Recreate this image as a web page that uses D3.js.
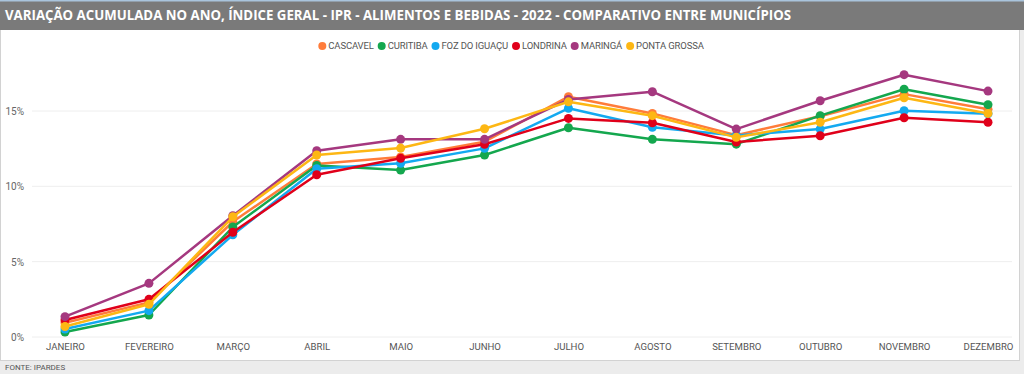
<!DOCTYPE html>
<html>
<head>
<meta charset="utf-8">
<script src="https://cdn.jsdelivr.net/npm/d3@7"></script>
<style>
  html, body { margin: 0; padding: 0; }
  body { width: 1024px; height: 374px; background: #ececec; overflow: hidden; font-family: "Open Sans", sans-serif; }
</style>
</head>
<body>
<svg id="chart" width="1024" height="374"></svg>
<script>
const months = ["JANEIRO", "FEVEREIRO", "MARÇO", "ABRIL", "MAIO", "JUNHO", "JULHO", "AGOSTO", "SETEMBRO", "OUTUBRO", "NOVEMBRO", "DEZEMBRO"];
const cities = ["CASCAVEL", "CURITIBA", "FOZ DO IGUAÇU", "LONDRINA", "MARINGÁ", "PONTA GROSSA"];
const colors = ["#FF7C3A", "#14A74E", "#13A9F0", "#E0001A", "#A5387F", "#FDB714"];
const cascavel = [0.95, 2.30, 7.65, 11.48, 11.95, 12.96, 15.95, 14.84, 13.40, 14.65, 16.12, 15.11];
const curitiba = [0.33, 1.46, 7.30, 11.39, 11.08, 12.08, 13.89, 13.12, 12.80, 14.69, 16.44, 15.42];
const foz = [0.53, 1.75, 6.78, 11.17, 11.53, 12.52, 15.18, 13.92, 13.38, 13.80, 15.02, 14.82];
const londrina = [1.13, 2.50, 6.95, 10.77, 11.86, 12.79, 14.51, 14.22, 12.94, 13.36, 14.55, 14.25];
const maringa = [1.35, 3.56, 8.05, 12.36, 13.12, 13.12, 15.77, 16.28, 13.80, 15.68, 17.41, 16.32];
const pontaGrossa = [0.70, 2.17, 7.98, 12.08, 12.54, 13.82, 15.61, 14.69, 13.25, 14.25, 15.88, 14.84];
const yTicks = [0, 5, 10, 15];

const series = [cascavel, curitiba, foz, londrina, maringa, pontaGrossa];

const svg = d3.select("#chart");

//Panel and title bar
svg.append("rect").attr("x", 0.5).attr("y", 29.5).attr("width", 1019).attr("height", 331)
  .attr("fill", "#fff").attr("stroke", "#d2d2d2");
svg.append("rect").attr("x", 0).attr("y", 0).attr("width", 1024).attr("height", 30).attr("fill", "#7a7a7a");
svg.append("rect").attr("x", 0).attr("y", 0).attr("width", 1024).attr("height", 1.5).attr("fill", "#a9c4dc");
svg.append("text").attr("x", 5).attr("y", 20)
  .attr("fill", "#fff").attr("font-size", 14).attr("font-weight", 700)
  .attr("textLength", 786).attr("lengthAdjust", "spacingAndGlyphs")
  .text("VARIAÇÃO ACUMULADA NO ANO, ÍNDICE GERAL - IPR - ALIMENTOS E BEBIDAS - 2022 - COMPARATIVO ENTRE MUNICÍPIOS");

svg.append("text").attr("x", 5).attr("y", 370)
  .attr("fill", "#555").attr("font-size", 8).attr("font-family", "Roboto, sans-serif")
  .text("FONTE: IPARDES");

//Scales
const x = d3.scalePoint().domain(months).range([65, 988]);
const y = d3.scaleLinear().domain([0, 15]).range([337, 111]);

//Grid lines
svg.append("g").selectAll("line").data(yTicks).join("line")
  .attr("x1", 32).attr("x2", 1012)
  .attr("y1", d => y(d)).attr("y2", d => y(d))
  .attr("stroke", "#eeeeee").attr("stroke-width", 1);

//Y axis
const yAxis = d3.axisLeft(y).tickValues(yTicks).tickFormat(d => d + "%").tickSize(0).tickPadding(0);
svg.append("g").attr("transform", "translate(24,0)").call(yAxis)
  .call(g => g.select(".domain").remove())
  .selectAll("text").attr("fill", "#666").attr("font-size", 10)
  .attr("font-family", "Roboto, sans-serif").attr("dy", "0.35em");

//X axis
const xAxis = d3.axisBottom(x).tickSize(0).tickPadding(0);
svg.append("g").attr("transform", "translate(0,343)").call(xAxis)
  .call(g => g.select(".domain").remove())
  .selectAll("text").attr("fill", "#555").attr("font-size", 9.6)
  .attr("font-family", "Roboto, sans-serif").attr("dy", "0.71em");

//Lines and markers
const line = d3.line().x((d, i) => x(months[i])).y(d => y(d));
series.forEach((s, k) => {
  svg.append("path").datum(s).attr("d", line)
    .attr("fill", "none").attr("stroke", colors[k]).attr("stroke-width", 2.5)
    .attr("stroke-linejoin", "round");
  svg.append("g").selectAll("circle").data(s).join("circle")
    .attr("cx", (d, i) => x(months[i])).attr("cy", d => y(d))
    .attr("r", 4.5).attr("fill", colors[k]);
});

//Legend
const legend = svg.append("g").attr("font-family", "Roboto, sans-serif").attr("font-size", 9.5);
let lx = 0;
cities.forEach((c, k) => {
  const g = legend.append("g").attr("transform", `translate(${lx},0)`);
  g.append("circle").attr("cx", 4).attr("cy", 0).attr("r", 4).attr("fill", colors[k]);
  const t = g.append("text").attr("x", 10).attr("y", 0).attr("dy", "0.35em")
    .attr("fill", "#555").attr("letter-spacing", -0.15).text(c);
  lx += 10 + t.node().getComputedTextLength() + 4;
});
legend.attr("transform", `translate(${(1022 - (lx - 4)) / 2},46)`);
</script>
</body>
</html>
